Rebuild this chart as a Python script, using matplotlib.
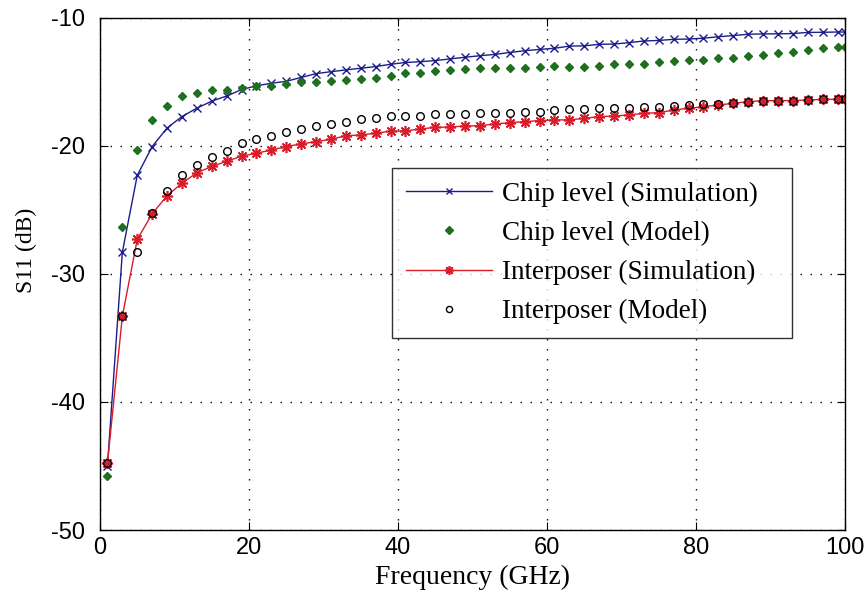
"""S11 versus frequency: chip level and interposer, simulation against model."""

import matplotlib

matplotlib.use("Agg")
import matplotlib.pyplot as plt

plt.rcParams["axes.unicode_minus"] = False

# Frequencies (GHz): odd steps 1..99 plus the end point at 100
freq = [1, 3, 5, 7, 9, 11, 13, 15, 17, 19, 21, 23, 25, 27, 29, 31, 33, 35, 37, 39,
        41, 43, 45, 47, 49, 51, 53, 55, 57, 59, 61, 63, 65, 67, 69, 71, 73, 75, 77, 79,
        81, 83, 85, 87, 89, 91, 93, 95, 97, 99, 100]

chip_sim = [-45.0, -28.3, -22.3, -20.05, -18.6, -17.7, -17.05, -16.5, -16.1, -15.6,
            -15.3, -15.1, -14.95, -14.65, -14.35, -14.2, -14.06, -13.93, -13.8, -13.62,
            -13.48, -13.42, -13.33, -13.2, -13.07, -12.95, -12.85, -12.7, -12.56, -12.46,
            -12.37, -12.2, -12.18, -12.06, -12.04, -11.93, -11.8, -11.76, -11.67, -11.65,
            -11.58, -11.47, -11.38, -11.27, -11.25, -11.24, -11.22, -11.13, -11.12, -11.1,
            -11.1]

chip_model = [-45.8, -26.3, -20.3, -17.95, -16.9, -16.1, -15.9, -15.6, -15.6, -15.5,
              -15.35, -15.35, -15.16, -14.97, -14.97, -14.95, -14.84, -14.79, -14.71, -14.53,
              -14.32, -14.27, -14.11, -14.06, -14.0, -13.93, -13.93, -13.92, -13.92, -13.8,
              -13.75, -13.8, -13.8, -13.75, -13.6, -13.59, -13.58, -13.41, -13.4, -13.28,
              -13.27, -13.15, -13.14, -12.97, -12.89, -12.76, -12.63, -12.5, -12.37, -12.29,
              -12.24]

interposer_sim = [-44.8, -33.3, -27.3, -25.3, -23.9, -22.9, -22.1, -21.6, -21.2, -20.8,
                  -20.57, -20.31, -20.05, -19.84, -19.66, -19.48, -19.2, -19.14, -19.0, -18.85,
                  -18.83, -18.67, -18.55, -18.52, -18.44, -18.42, -18.28, -18.18, -18.1, -18.02,
                  -17.97, -17.96, -17.84, -17.71, -17.66, -17.58, -17.45, -17.4, -17.19, -17.06,
                  -16.93, -16.8, -16.67, -16.54, -16.46, -16.46, -16.45, -16.41, -16.36, -16.35,
                  -16.35]

interposer_model = [-44.8, -33.3, -28.3, -25.2, -23.5, -22.3, -21.5, -20.9, -20.4, -19.8,
                    -19.48, -19.22, -18.88, -18.7, -18.44, -18.28, -18.1, -17.92, -17.79, -17.66,
                    -17.66, -17.64, -17.53, -17.53, -17.52, -17.45, -17.4, -17.4, -17.38, -17.32,
                    -17.2, -17.15, -17.15, -17.06, -17.06, -17.05, -16.93, -16.93, -16.88, -16.8,
                    -16.72, -16.72, -16.67, -16.54, -16.46, -16.46, -16.46, -16.41, -16.35, -16.35,
                    -16.35]

x_ticks = [0, 20, 40, 60, 80, 100]
y_ticks = [-50, -40, -30, -20, -10]

serif = ["Liberation Serif", "DejaVu Serif"]
narrow = ["Liberation Sans Narrow", "Liberation Sans", "DejaVu Sans"]

fig = plt.figure(figsize=(8.68, 6.06), dpi=100)
ax = fig.add_axes([0.1152, 0.1254, 0.8583, 0.845])

ax.plot(freq, chip_sim, color="#1c1c8c", marker="x", markersize=6, linewidth=1.0,
        markeredgewidth=1.0, label="Chip level (Simulation)")
ax.plot(freq, chip_model, color="#1f6f1f", marker="D", markersize=4.5, linestyle="none",
        label="Chip level (Model)")
ax.plot(freq, interposer_sim, color="#d81c2a", marker=(8, 2, 0), markersize=8, linewidth=1.0,
        markeredgewidth=1.2, label="Interposer (Simulation)")
ax.plot(freq, interposer_model, color="black", marker="o", markersize=5.5, linestyle="none",
        markerfacecolor="none", markeredgewidth=1.0, label="Interposer (Model)")

ax.set_xlim(0, 100)
ax.set_ylim(-50, -10)
ax.set_xticks(x_ticks)
ax.set_yticks(y_ticks)
ax.tick_params(direction="in", top=True, right=True, length=6, width=0.8, labelsize=17)
ax.tick_params(axis="y", pad=11)
ax.tick_params(axis="x", pad=5)
for label in ax.get_xticklabels() + ax.get_yticklabels():
    label.set_family(narrow)
ax.grid(True, color="black", linestyle=(0, (1, 6.2)), linewidth=1.0)
for spine in ax.spines.values():
    spine.set_linewidth(1.0)

ax.set_xlabel("Frequency (GHz)", family=serif, fontsize=20, labelpad=4)
ax.set_ylabel("S11 (dB)", family=serif, fontsize=17)
ax.yaxis.set_label_coords(-0.0846, 0.547)

legend = ax.legend(loc="upper left", bbox_to_anchor=(0.392, 0.387, 0.537, 0.32), mode="expand",
                   prop={"family": serif, "size": 19.5}, frameon=True, fancybox=False,
                   edgecolor="black", handlelength=3.2, borderaxespad=0, labelspacing=0.52,
                   borderpad=0.5, handletextpad=0.35, markerscale=0.8)
legend.get_frame().set_linewidth(1.0)

fig.savefig("out.png", dpi=100)
